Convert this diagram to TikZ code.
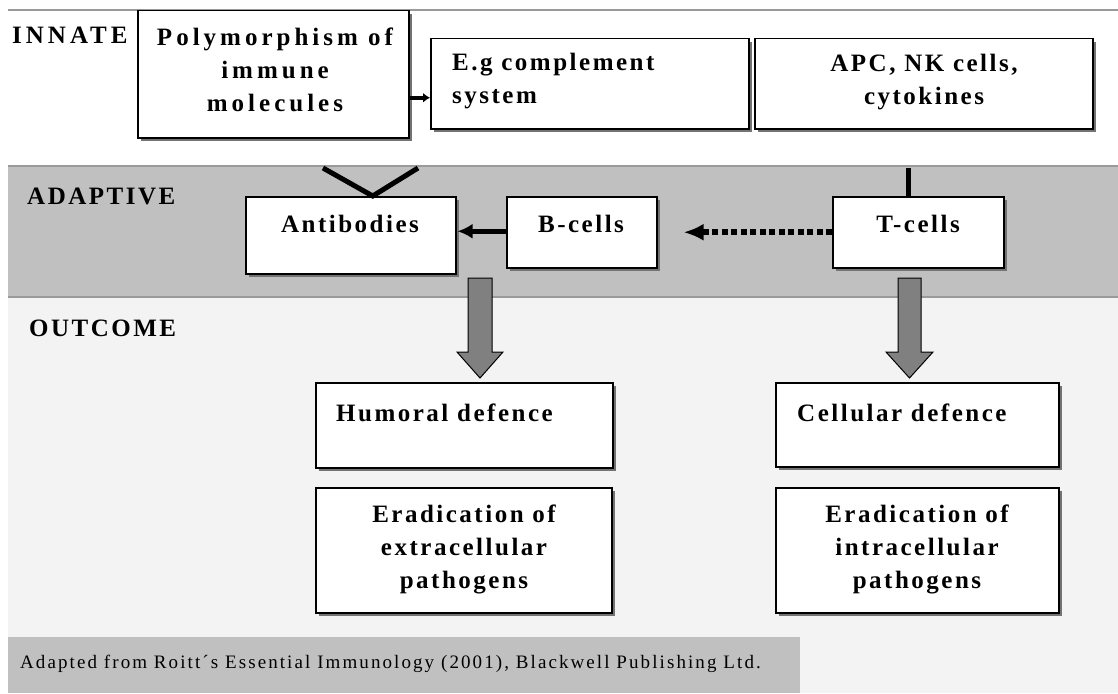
\documentclass[tikz,border=0pt]{standalone}
\usepackage{fontspec}
\setmainfont{Liberation Serif}
\newfontfamily\lbl{Liberation Serif}[LetterSpace=10]
\newfontfamily\lblw{Liberation Serif}[LetterSpace=16]
\newfontfamily\capf{Liberation Serif}[LetterSpace=11]
\usetikzlibrary{shadows,arrows.meta,calc}
\definecolor{bandgray}{HTML}{C0C0C0}
\definecolor{lightband}{HTML}{F3F3F3}
\definecolor{edgegray}{HTML}{9A9A9A}
\definecolor{arrowgray}{HTML}{808080}
\begin{document}
\begin{tikzpicture}[x=1pt,y=-1pt,
  box/.style={draw=black, line width=1.5pt, fill=white, rectangle, inner sep=0pt, anchor=north west,
    drop shadow={shadow xshift=3.5pt, shadow yshift=-3.5pt, fill=black!55, opacity=1}},
  txt/.style={font=\lbl\bfseries\fontsize{25}{33}\selectfont, inner sep=0pt},
  widetxt/.style={font=\lblw\bfseries\fontsize{25}{33}\selectfont, inner sep=0pt},
  captxt/.style={font=\capf\fontsize{19}{22}\selectfont, inner sep=0pt},
  thick line/.style={line width=5pt, draw=black},
  blockarrow/.style={fill=arrowgray, draw=black, line width=1pt, line join=miter}
]
\useasboundingbox (0,0) rectangle (1118,693);
\fill[white] (0,0) rectangle (1118,693);
% bands
\fill[lightband] (8,297) rectangle (1118,693);
\fill[bandgray] (8,166) rectangle (1118,297);
\draw[edgegray, line width=2pt] (8,166) -- (1118,166);
\draw[edgegray, line width=1.5pt] (8,297) -- (1118,297);
\draw[edgegray, line width=2pt] (8,10) -- (1118,10);
\fill[bandgray] (8,637) rectangle (800,693);

% labels
\node[widetxt, anchor=west] (innate) at (12,35) {INNATE};
\node[txt, anchor=west] (adaptive) at (27,196) {ADAPTIVE};
\node[txt, anchor=west] (outcome) at (29,328) {OUTCOME};

% innate boxes
\node[box, minimum width=271pt, minimum height=127pt] (poly) at (137,10) {};
\node[box, minimum width=318pt, minimum height=90pt] (eg) at (430,38) {};
\node[box, minimum width=338pt, minimum height=90pt] (apc) at (754,38) {};
\node[widetxt, align=center] (polyt) at (275,70) {Polymorphism of\\immune\\molecules};
\node[txt, align=left, anchor=west] (egt) at (452,81) {E.g complement\\system};
\node[txt, align=center] (apct) at (924,82) {APC, NK cells,\\cytokines};

% connectors into adaptive band
\coordinate (vl) at (323,168);
\coordinate (vr) at (418,168);
\coordinate (tin) at (908,168);

% adaptive boxes
\node[box, minimum width=210pt, minimum height=77pt] (ab) at (245,196) {};
\node[box, minimum width=150pt, minimum height=71pt] (bc) at (506,196) {};
\node[box, minimum width=171pt, minimum height=71pt] (tc) at (832,196) {};
\node[txt] (abt) at (350,224) {Antibodies};
\node[txt] (bct) at (581,224) {B-cells};
\node[txt] (tct) at (918,224) {T-cells};

\coordinate (vapex) at ([xshift=22pt]ab.north);
\draw[thick line, line cap=butt] (vl) -- (vapex) -- (vr);
\draw[thick line] (tin) -- (tin |- tc.north);

% innate connector
\coordinate (pe) at ([yshift=-14pt]eg.west);
\draw[line width=4.5pt, -{Latex[length=7pt,width=10pt]}] (poly.east |- pe) -- (pe);

% adaptive connectors
\coordinate (bcin) at ([yshift=1pt]bc.west);
\draw[thick line, -{Latex[length=15pt,width=15pt]}, shorten >=1pt] (bcin) -- (bcin -| ab.east);
\coordinate (tcout) at (tc.west);
\draw[line width=6pt, dash pattern=on 6pt off 3.5pt, -{Latex[length=20pt,width=17pt]}, shorten >=26pt] (tcout) -- (tcout -| bc.east);

% outcome boxes
\node[box, minimum width=297pt, minimum height=85pt] (hum) at (315,382) {};
\node[box, minimum width=283pt, minimum height=84pt] (cel) at (775,382) {};
\node[box, minimum width=296pt, minimum height=125pt] (exo) at (315,487) {};
\node[box, minimum width=283pt, minimum height=125pt] (ino) at (775,487) {};
\node[txt, anchor=west] (humt) at (336,413) {Humoral defence};
\node[txt, anchor=west] (celt) at (797,413) {Cellular defence};
\node[txt, align=center] (exot) at (464,549) {Eradication of\\extracellular\\pathogens};
\node[txt, align=center] (inot) at (917,549) {Eradication of\\intracellular\\pathogens};

% block arrows
\draw[blockarrow] (468,278) -- (492,278) -- (492,352) -- (503,352) -- (480,378) -- (457,352) -- (468,352) -- cycle;
\draw[blockarrow] (898,278) -- (921,278) -- (921,352) -- (933,352) -- (909.5,378) -- (886,352) -- (898,352) -- cycle;

% caption
\node[captxt, anchor=west] (cap) at (20,664) {Adapted from Roitt´s Essential Immunology (2001), Blackwell Publishing Ltd.};
\end{tikzpicture}
\end{document}
